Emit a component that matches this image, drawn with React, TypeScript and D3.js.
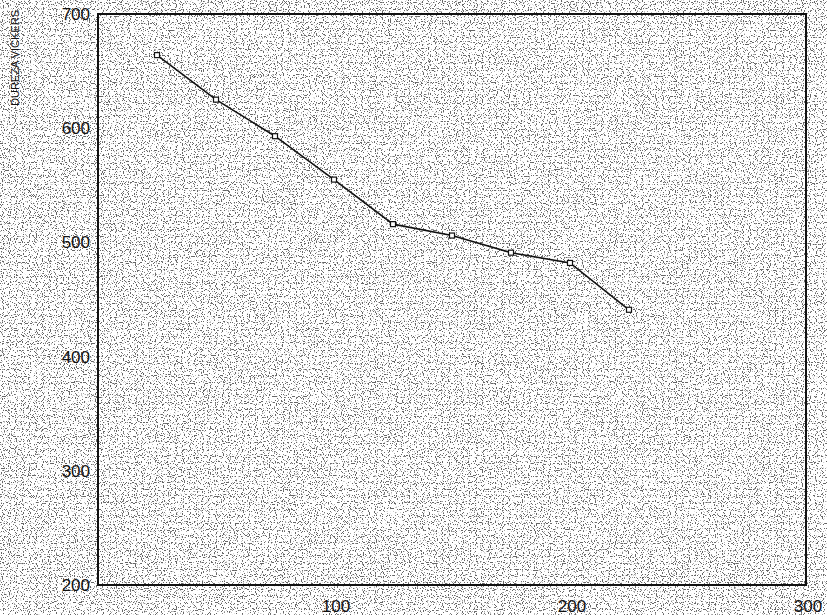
import React from "react";
import { scaleLinear, line } from "d3";

// espesor / distancia vs dureza
const xValues = [25, 50, 75, 100, 125, 150, 175, 200, 225];
const hardness = [664, 625, 593, 555, 516, 506, 491, 482, 441];
const yTicks = [200, 300, 400, 500, 600, 700];
const xTicks = [100, 200, 300];

const W = 827;
const H = 615;

export default function App() {
  const x = scaleLinear().domain([0, 300]).range([98, 806]);
  const y = scaleLinear().domain([200, 700]).range([585, 14]);
  const pts = xValues.map((v, i) => [x(v), y(hardness[i])] as [number, number]);
  const path = line()(pts);

  return (
    <svg
      width={W}
      height={H}
      style={{ position: "absolute", left: 0, top: 0, fontFamily: "Liberation Sans, Arial, sans-serif" }}
    >
      <defs>
        <filter id="speckle" x="0" y="0" width="100%" height="100%">
          <feTurbulence type="fractalNoise" baseFrequency="0.85" numOctaves="1" seed="3" result="n" />
          <feColorMatrix
            in="n"
            type="matrix"
            values="0 0 0 0 0  0 0 0 0 0  0 0 0 0 0  0 0 0 -14 6"
          />
        </filter>
      </defs>
      <rect width={W} height={H} fill="#fff" />
      <rect width={W} height={H} filter="url(#speckle)" opacity={0.6} />

      {/* marco */}
      <rect x={x(0)} y={y(700)} width={x(300) - x(0)} height={y(200) - y(700)} fill="none" stroke="#111" strokeWidth={2} />

      {yTicks.map((t) => (
        <text key={t} x={90} y={y(t)} dy="0.35em" textAnchor="end" fontSize={17} fill="#111">
          {t}
        </text>
      ))}
      {xTicks.map((t) => (
        <text key={t} x={x(t) + 2} y={612} textAnchor="middle" fontSize={17} fill="#111">
          {t}
        </text>
      ))}
      <text transform="translate(19,58) rotate(-90)" textAnchor="middle" fontSize={11} fill="#111">
        DUREZA VICKERS
      </text>

      <path d={path ?? ""} fill="none" stroke="#111" strokeWidth={1.6} />
      {pts.map(([px, py], i) => (
        <rect key={i} x={px - 2.5} y={py - 2.5} width={5} height={5} fill="#fff" stroke="#111" strokeWidth={1.2} />
      ))}
    </svg>
  );
}
